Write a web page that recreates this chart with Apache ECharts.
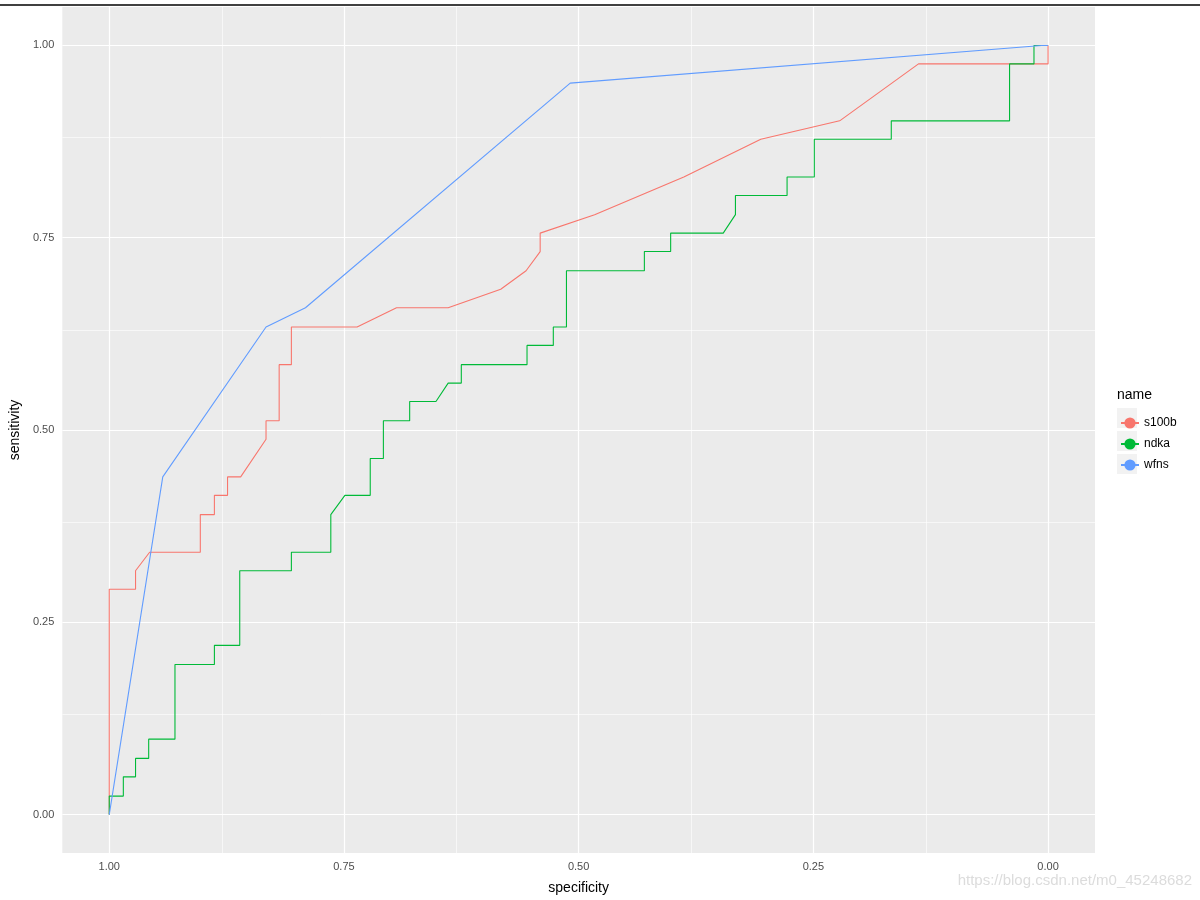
<!DOCTYPE html>
<html>
<head>
<meta charset="utf-8">
<script src="https://cdn.jsdelivr.net/npm/echarts@6/dist/echarts.min.js"></script>
<style>html,body{margin:0;background:#fff}#main{width:1200px;height:900px}</style>
</head>
<body>
<div id="main"></div>
<script>
// [specificity, sensitivity] points
const s100b = [[1,0],[1,0.293],[0.972,0.293],[0.972,0.317],[0.957,0.341],[0.903,0.341],[0.903,0.390],[0.888,0.390],[0.888,0.415],[0.874,0.415],[0.874,0.439],[0.860,0.439],[0.833,0.488],[0.833,0.512],[0.819,0.512],[0.819,0.585],[0.806,0.585],[0.806,0.634],[0.736,0.634],[0.694,0.659],[0.639,0.659],[0.583,0.683],[0.556,0.707],[0.541,0.732],[0.541,0.756],[0.483,0.780],[0.388,0.829],[0.306,0.878],[0.222,0.902],[0.138,0.976],[0,0.976],[0,1]];
const ndka = [[1,0],[1,0.024],[0.985,0.024],[0.985,0.049],[0.972,0.049],[0.972,0.073],[0.958,0.073],[0.958,0.098],[0.930,0.098],[0.930,0.195],[0.888,0.195],[0.888,0.220],[0.861,0.220],[0.861,0.317],[0.806,0.317],[0.806,0.341],[0.764,0.341],[0.764,0.390],[0.749,0.415],[0.722,0.415],[0.722,0.463],[0.708,0.463],[0.708,0.512],[0.680,0.512],[0.680,0.537],[0.652,0.537],[0.639,0.561],[0.625,0.561],[0.625,0.585],[0.555,0.585],[0.555,0.610],[0.527,0.610],[0.527,0.634],[0.513,0.634],[0.513,0.707],[0.430,0.707],[0.430,0.732],[0.402,0.732],[0.402,0.756],[0.346,0.756],[0.333,0.780],[0.333,0.805],[0.278,0.805],[0.278,0.829],[0.249,0.829],[0.249,0.878],[0.167,0.878],[0.167,0.902],[0.041,0.902],[0.041,0.976],[0.015,0.976],[0.015,1],[0,1]];
const wfns = [[1,0],[0.943,0.439],[0.833,0.634],[0.791,0.659],[0.509,0.951],[0.007,1],[0,1]];

const majorTicks = [0, 0.25, 0.5, 0.75, 1];
const minorTicks = [0.125, 0.375, 0.625, 0.875];
const seriesNames = ['s100b', 'ndka', 'wfns'];
const colors = ['#F8766D', '#00BA38', '#619CFF'];

const chart = echarts.init(document.getElementById('main'));
const gridLines = [];
majorTicks.forEach(v => { gridLines.push({ xAxis: v, lineStyle: { width: 1.2 } }); gridLines.push({ yAxis: v, lineStyle: { width: 1.2 } }); });
minorTicks.forEach(v => { gridLines.push({ xAxis: v, lineStyle: { width: 0.6 } }); gridLines.push({ yAxis: v, lineStyle: { width: 0.6 } }); });

const axisCommon = {
  type: 'value', min: -0.05, max: 1.05,
  splitLine: { show: false },
  axisLine: { show: false },
  axisTick: { show: true, length: 4, lineStyle: { color: '#333' }, customValues: majorTicks },
  axisLabel: { color: '#4d4d4d', fontSize: 11, fontFamily: 'Arial, Liberation Sans', customValues: majorTicks, formatter: v => v.toFixed(2) },
  nameLocation: 'middle',
  nameTextStyle: { color: '#000', fontSize: 14, fontFamily: 'Arial, Liberation Sans' }
};

chart.setOption({
  animation: false,
  grid: { left: 55, right: 105, top: 7, bottom: 47, show: true, backgroundColor: '#ebebeb', borderWidth: 0 },
  xAxis: Object.assign({}, axisCommon, { inverse: true, name: 'specificity', nameGap: 28 }),
  yAxis: Object.assign({}, axisCommon, { name: 'sensitivity', nameGap: 38 }),
  legend: {
    orient: 'vertical', left: 1115, top: 412, itemWidth: 18, itemHeight: 14, itemGap: 9,
    data: seriesNames,
    textStyle: { color: '#000', fontSize: 12, fontFamily: 'Arial, Liberation Sans' }
  },
  series: seriesNames.map((n, i) => ({
    name: n, type: 'line', data: [s100b, ndka, wfns][i], symbol: 'none',
    lineStyle: { color: colors[i], width: 1.1 }, itemStyle: { color: colors[i] },
    markLine: i === 0 ? { silent: true, symbol: 'none', label: { show: false }, lineStyle: { color: '#fff', type: 'solid' }, data: gridLines, z: 1 } : undefined,
    z: 3 + i
  })),
  graphic: [
    { type: 'line', shape: { x1: 0, y1: 5, x2: 1200, y2: 5 }, style: { stroke: '#000', lineWidth: 1.5 } },
    { type: 'text', left: 1117, top: 388, style: { text: 'name', fontSize: 14, fill: '#000', fontFamily: 'Arial, Liberation Sans' } },
    { type: 'rect', shape: { x: 1117, y: 408, width: 20, height: 20 }, style: { fill: '#f2f2f2' }, z: -1 },
    { type: 'rect', shape: { x: 1117, y: 431, width: 20, height: 20 }, style: { fill: '#f2f2f2' }, z: -1 },
    { type: 'rect', shape: { x: 1117, y: 454, width: 20, height: 20 }, style: { fill: '#f2f2f2' }, z: -1 },
    { type: 'text', right: 8, bottom: 12, style: { text: 'https://blog.csdn.net/m0_45248682', fontSize: 15, fill: '#dcdcdc', fontFamily: 'Arial, Liberation Sans' } }
  ]
});
</script>
</body>
</html>
